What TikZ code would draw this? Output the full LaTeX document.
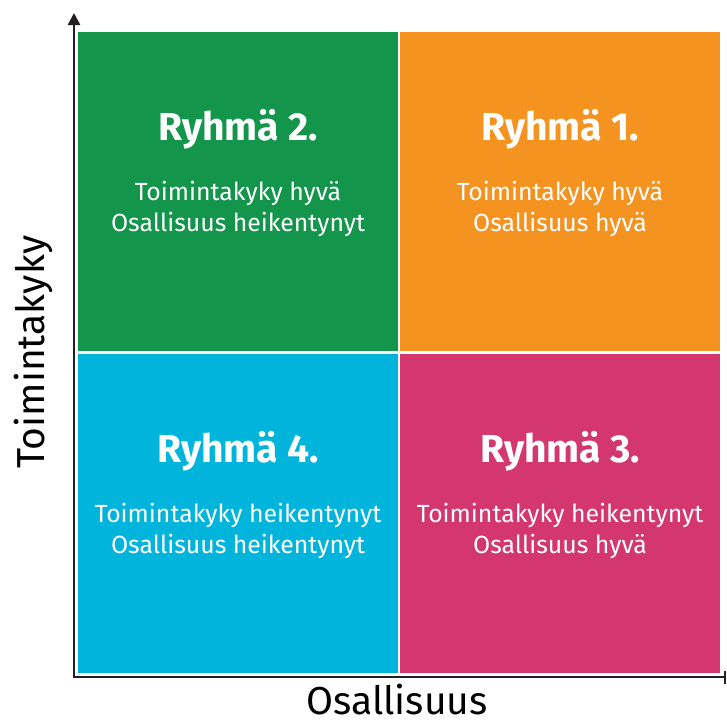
\documentclass[tikz,border=0pt]{standalone}
\usepackage{fontspec}
\setmainfont{Fira Sans}
\usetikzlibrary{arrows.meta}
\definecolor{qgreen}{RGB}{19,149,75}
\definecolor{qorange}{RGB}{245,147,33}
\definecolor{qblue}{RGB}{0,180,220}
\definecolor{qpink}{RGB}{211,55,110}
\definecolor{axisc}{RGB}{35,31,32}
\tikzset{
  quad/.style={minimum width=320pt, minimum height=319pt, inner sep=0pt, outer sep=0pt, anchor=north west},
  title/.style={text=white, font=\fontsize{39}{44}\selectfont\bfseries},
  body/.style={text=white, align=center, font=\fontsize{24.8}{31}\selectfont},
  axislabel/.style={text=black, inner sep=0pt, font=\fontsize{39}{44}\selectfont},
  axisline/.style={draw=axisc, line width=2.4pt}
}
\begin{document}
\begin{tikzpicture}[x=1pt,y=-1pt]
\useasboundingbox (0,0) rectangle (727,724);
\node[quad, fill=qgreen] (q2) at (78,32) {};
\node[quad, fill=qorange] (q1) at (400,32) {};
\node[quad, fill=qblue] (q4) at (78,354) {};
\node[quad, fill=qpink] (q3) at (400,354) {};
\foreach \q/\n/\a/\b in {q2/2./Toimintakyky hyvä/Osallisuus heikentynyt,
                          q1/1./Toimintakyky hyvä/Osallisuus hyvä,
                          q4/4./Toimintakyky heikentynyt/Osallisuus heikentynyt,
                          q3/3./Toimintakyky heikentynyt/Osallisuus hyvä}{
  \node[title] (\q t) at ([yshift=-97pt]\q.north) {Ryhmä \n};
  \node[body] (\q b) at ([yshift=-177pt]\q.north) {\a\\\b};
}
\coordinate (origin) at (74,677);
\coordinate (ytop) at (74,13);
\coordinate (xend) at (726,677);
\draw[axisline, -{Triangle[width=12pt,length=12pt]}] (origin) -- (ytop);
\draw[axisline, -{Bar[width=13pt,line width=1.6pt]}] ([xshift=-1.2pt]origin) -- (xend);
\node[axislabel, rotate=90] (ylab) at (33,352) {Toimintakyky};
\node[axislabel, anchor=base] (xlab) at (397,714) {Osallisuus};
\end{tikzpicture}
\end{document}
